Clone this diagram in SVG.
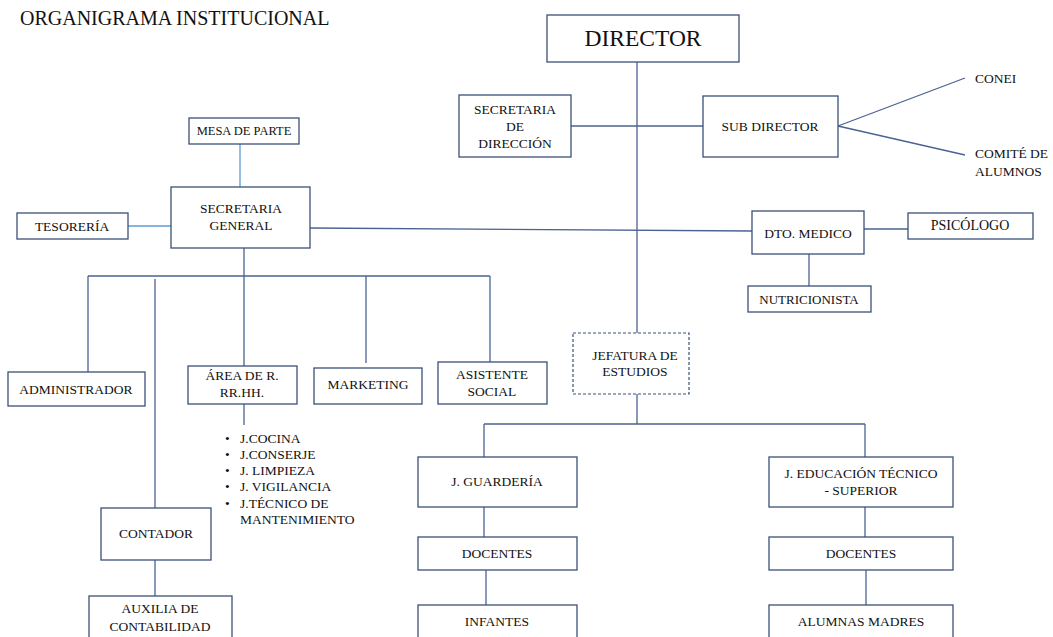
<svg xmlns="http://www.w3.org/2000/svg" width="1053" height="637" viewBox="0 0 1053 637">
  <style>
    .box { fill: #ffffff; stroke: #3b5077; stroke-width: 1.3; }
    .dash { fill: #ffffff; stroke: #3b5077; stroke-width: 1.2; stroke-dasharray: 3 2; }
    .ln { stroke: #4a6391; stroke-width: 1.3; fill: none; }
    .lb { stroke: #5b9bd5; stroke-width: 1.3; fill: none; }
    text { font-family: "Liberation Serif", "Times New Roman", serif; font-size: 13.5px; fill: #111; }
    .c { text-anchor: middle; dominant-baseline: central; }
  </style>
  <rect width="1053" height="637" fill="#ffffff"/>

  <text x="20" y="25" style="font-size:20px">ORGANIGRAMA INSTITUCIONAL</text>

  <!-- connectors -->
  <g id="connectors">
    <line class="ln" x1="637" y1="62" x2="637" y2="333"/>
    <line class="ln" x1="571" y1="126" x2="703" y2="126"/>
    <line class="ln" x1="838" y1="126" x2="965" y2="78"/>
    <line class="ln" x1="838" y1="126" x2="965" y2="155"/>
    <line class="lb" x1="240" y1="144" x2="240" y2="187"/>
    <line class="lb" x1="128" y1="226" x2="171" y2="226"/>
    <line class="ln" x1="310" y1="228" x2="752" y2="231"/>
    <line class="ln" x1="864" y1="229" x2="908" y2="229"/>
    <line class="ln" x1="809" y1="254" x2="809" y2="286"/>
    <line class="ln" x1="244" y1="248" x2="244" y2="366"/>
    <line class="ln" x1="88" y1="276" x2="490" y2="276"/>
    <line class="ln" x1="88" y1="276" x2="88" y2="372"/>
    <line class="ln" x1="155" y1="279" x2="155" y2="508"/>
    <line class="ln" x1="366" y1="276" x2="366" y2="363"/>
    <line class="ln" x1="490" y1="276" x2="490" y2="362"/>
    <line class="ln" x1="244" y1="404" x2="244" y2="425"/>
    <line class="ln" x1="155" y1="560" x2="155" y2="596"/>
    <line class="ln" x1="637" y1="394" x2="637" y2="424"/>
    <line class="ln" x1="484" y1="424" x2="865" y2="424"/>
    <line class="ln" x1="484" y1="424" x2="484" y2="457"/>
    <line class="ln" x1="865" y1="424" x2="865" y2="457"/>
    <line class="ln" x1="484" y1="507" x2="484" y2="537"/>
    <line class="ln" x1="486" y1="570" x2="486" y2="605"/>
    <line class="ln" x1="865" y1="507" x2="865" y2="537"/>
    <line class="ln" x1="866" y1="570" x2="866" y2="605"/>
  </g>

  <g id="director">
    <rect class="box" x="547" y="15" width="192" height="47"/>
    <text x="643" y="46" text-anchor="middle" style="font-size:23.5px">DIRECTOR</text>
  </g>
  <g id="secretaria-direccion">
    <rect class="box" x="459" y="95" width="112" height="62"/>
    <text class="c" x="515" y="109">SECRETARIA</text>
    <text class="c" x="515" y="126">DE</text>
    <text class="c" x="515" y="143">DIRECCIÓN</text>
  </g>
  <g id="sub-director">
    <rect class="box" x="703" y="96" width="135" height="61"/>
    <text class="c" x="770" y="126">SUB DIRECTOR</text>
  </g>
  <g id="conei">
    <text x="975" y="83">CONEI</text>
  </g>
  <g id="comite">
    <text x="975" y="158">COMITÉ DE</text>
    <text x="975" y="176">ALUMNOS</text>
  </g>
  <g id="mesa-parte">
    <rect class="box" x="189" y="118" width="110" height="26"/>
    <text class="c" x="244" y="131" style="font-size:12.5px">MESA DE PARTE</text>
  </g>
  <g id="secretaria-general">
    <rect class="box" x="171" y="187" width="139" height="61"/>
    <text class="c" x="241" y="208">SECRETARIA</text>
    <text class="c" x="241" y="225">GENERAL</text>
  </g>
  <g id="tesoreria">
    <rect class="box" x="17" y="213" width="111" height="26"/>
    <text class="c" x="72" y="226">TESORERÍA</text>
  </g>
  <g id="dto-medico">
    <rect class="box" x="752" y="211" width="112" height="43"/>
    <text class="c" x="808" y="233">DTO. MEDICO</text>
  </g>
  <g id="psicologo">
    <rect class="box" x="908" y="213" width="125" height="26"/>
    <text class="c" x="970" y="225" style="font-size:14px">PSICÓLOGO</text>
  </g>
  <g id="nutricionista">
    <rect class="box" x="748" y="286" width="123" height="26"/>
    <text class="c" x="809" y="299" style="font-size:13px">NUTRICIONISTA</text>
  </g>
  <g id="administrador">
    <rect class="box" x="8" y="372" width="137" height="34"/>
    <text class="c" x="76" y="389">ADMINISTRADOR</text>
  </g>
  <g id="area-rrhh">
    <rect class="box" x="188" y="366" width="109" height="38"/>
    <text class="c" x="242" y="375">ÁREA DE R.</text>
    <text class="c" x="242" y="392">RR.HH.</text>
  </g>
  <g id="marketing">
    <rect class="box" x="314" y="368" width="108" height="36"/>
    <text class="c" x="368" y="384">MARKETING</text>
  </g>
  <g id="asistente-social">
    <rect class="box" x="438" y="362" width="109" height="42"/>
    <text class="c" x="492" y="374">ASISTENTE</text>
    <text class="c" x="492" y="391">SOCIAL</text>
  </g>
  <g id="jefes-rrhh" style="font-size:13px">
    <text x="225" y="443">•</text><text x="240" y="443">J.COCINA</text>
    <text x="225" y="459">•</text><text x="240" y="459">J.CONSERJE</text>
    <text x="225" y="475">•</text><text x="240" y="475">J. LIMPIEZA</text>
    <text x="225" y="491">•</text><text x="240" y="491">J. VIGILANCIA</text>
    <text x="225" y="508">•</text><text x="240" y="508">J.TÉCNICO DE</text>
    <text x="240" y="524">MANTENIMIENTO</text>
  </g>
  <g id="contador">
    <rect class="box" x="101" y="508" width="110" height="52"/>
    <text class="c" x="156" y="533">CONTADOR</text>
  </g>
  <g id="auxiliar-contabilidad">
    <rect class="box" x="89" y="596" width="143" height="50"/>
    <text class="c" x="160" y="608">AUXILIA DE</text>
    <text class="c" x="160" y="626">CONTABILIDAD</text>
  </g>
  <g id="jefatura-estudios">
    <rect class="dash" x="573" y="333" width="116" height="61"/>
    <text class="c" x="635" y="355">JEFATURA DE</text>
    <text class="c" x="635" y="371">ESTUDIOS</text>
  </g>
  <g id="j-guarderia">
    <rect class="box" x="418" y="457" width="159" height="50"/>
    <text class="c" x="497" y="481">J. GUARDERÍA</text>
  </g>
  <g id="j-educacion">
    <rect class="box" x="769" y="457" width="184" height="50"/>
    <text class="c" x="861" y="473">J. EDUCACIÓN TÉCNICO</text>
    <text class="c" x="861" y="490">- SUPERIOR</text>
  </g>
  <g id="docentes-guarderia">
    <rect class="box" x="418" y="537" width="159" height="33"/>
    <text class="c" x="497" y="553">DOCENTES</text>
  </g>
  <g id="docentes-educacion">
    <rect class="box" x="769" y="537" width="184" height="33"/>
    <text class="c" x="861" y="553">DOCENTES</text>
  </g>
  <g id="infantes">
    <rect class="box" x="418" y="605" width="159" height="45"/>
    <text class="c" x="497" y="621">INFANTES</text>
  </g>
  <g id="alumnas-madres">
    <rect class="box" x="769" y="605" width="184" height="45"/>
    <text class="c" x="861" y="621">ALUMNAS MADRES</text>
  </g>
</svg>
